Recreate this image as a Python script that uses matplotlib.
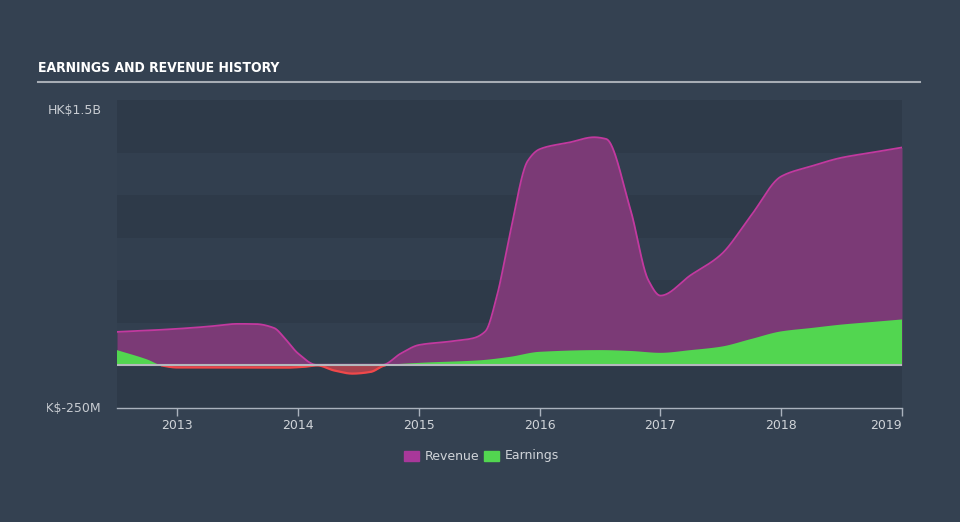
import numpy as np
import matplotlib
matplotlib.use("Agg")
import matplotlib.pyplot as plt
from matplotlib.patches import Rectangle
from matplotlib.transforms import Bbox

# ---- data (HK$ billions, decimal years) ----
rev_dates = [2012.5, 2012.75, 2013.0, 2013.25, 2013.5, 2013.65, 2013.8, 2013.9, 2014.0, 2014.15,
             2014.4, 2014.7, 2014.85, 2015.0, 2015.25, 2015.45, 2015.55, 2015.65, 2015.75, 2015.9,
             2016.0, 2016.25, 2016.45, 2016.55, 2016.75, 2016.9, 2017.0, 2017.25, 2017.5, 2017.75,
             2018.0, 2018.25, 2018.5, 2018.75, 2019.0]
rev_vals = [0.197, 0.205, 0.215, 0.228, 0.244, 0.243, 0.22, 0.15, 0.07, 0.004,
            0.004, 0.004, 0.07, 0.12, 0.14, 0.16, 0.2, 0.42, 0.76, 1.2,
            1.27, 1.31, 1.34, 1.33, 0.92, 0.50, 0.41, 0.53, 0.65, 0.88,
            1.11, 1.17, 1.22, 1.25, 1.28]
earn_dates = [2012.5, 2012.75, 2012.87, 2013.0, 2013.5, 2013.9, 2014.05, 2014.16, 2014.3, 2014.45,
              2014.6, 2014.72, 2015.0, 2015.5, 2015.75, 2016.0, 2016.5, 2016.75, 2017.0, 2017.25,
              2017.5, 2017.75, 2018.0, 2018.25, 2018.5, 2018.75, 2019.0]
earn_vals = [0.09, 0.035, 0.0, -0.012, -0.012, -0.013, -0.008, 0.0, -0.03, -0.048,
             -0.038, 0.0, 0.015, 0.03, 0.05, 0.08, 0.09, 0.085, 0.074, 0.09,
             0.11, 0.155, 0.2, 0.22, 0.24, 0.255, 0.27]
year_ticks = [2013, 2014, 2015, 2016, 2017, 2018, 2019]
y_tick_vals = [1.5, -0.25]
y_tick_labels = ["HK$1.5B", "HK$-250M"]
legend_labels = ["Revenue", "Earnings"]

# ---- monotone cubic interpolation for smooth rendering ----
def monotone(x, y, xs):
    x = np.asarray(x, float); y = np.asarray(y, float)
    h = np.diff(x); d = np.diff(y) / h
    m = np.zeros_like(y)
    m[0] = d[0]; m[-1] = d[-1]
    for i in range(1, len(y) - 1):
        if d[i - 1] * d[i] <= 0:
            m[i] = 0
        else:
            w1 = 2 * h[i] + h[i - 1]; w2 = h[i] + 2 * h[i - 1]
            m[i] = (w1 + w2) / (w1 / d[i - 1] + w2 / d[i])
    idx = np.clip(np.searchsorted(x, xs) - 1, 0, len(x) - 2)
    t = (xs - x[idx]) / h[idx]
    h00 = 2 * t**3 - 3 * t**2 + 1; h10 = t**3 - 2 * t**2 + t
    h01 = -2 * t**3 + 3 * t**2; h11 = t**3 - t**2
    return h00 * y[idx] + h10 * h[idx] * m[idx] + h01 * y[idx + 1] + h11 * h[idx] * m[idx + 1]

BG = "#344151"
fig = plt.figure(figsize=(9.6, 5.22), dpi=100, facecolor=BG)
ax = fig.add_axes([117 / 960, 1 - 408 / 522, 785 / 960, 298 / 522])
ax.set_facecolor("#2f3b4a")
ax.set_xlim(2012.5, 2019.0)
ax.set_ylim(-0.25, 1.5)

# background bands
for i, lo in enumerate(np.arange(-0.25, 1.5, 0.25)):
    ax.axhspan(lo, lo + 0.25, color="#2e3a49" if i % 2 == 0 else "#323f4f", lw=0, zorder=0)
ax.add_patch(Rectangle((2012.5, 1.5), 6.5, 0.06, color="#2e3a49", lw=0, clip_on=False, zorder=0))

xs = np.linspace(2012.5, 2019.0, 1500)
rv = monotone(rev_dates, rev_vals, xs)
ev = monotone(earn_dates, earn_vals, xs)

ax.fill_between(xs, 0, rv, color="#7b3a76", lw=0, zorder=2)
ax.plot(xs, rv, color="#c2399f", lw=1.3, zorder=3)
ax.fill_between(xs, 0, ev, where=ev >= 0, interpolate=True, color="#52d650", lw=0, zorder=4)
ax.fill_between(xs, 0, ev, where=ev < 0, interpolate=True, color="#b5444f", alpha=0.9, lw=0, zorder=4)
evn = np.where(ev < 0, ev, np.nan)
ax.plot(xs, evn, color="#f0484a", lw=1.6, zorder=5)
ax.axhline(0, color="#b4b8bd", lw=1.5, zorder=6)

for s in ["top", "right", "left"]:
    ax.spines[s].set_visible(False)
ax.spines["bottom"].set_color("#aab2bd")
ax.spines["bottom"].set_linewidth(1)
ax.set_xticks(year_ticks)
ax.set_xticklabels([str(y) for y in year_ticks])
ax.tick_params(axis="x", colors="#aab2bd", labelcolor="#d0d4d9", length=6, width=1, labelsize=9, pad=2)
ax.get_xticklabels()[-1].set_ha("right")
ax.set_yticks([])

# y labels clipped at left
clipbox = Bbox.from_extents(47, 0, 960, 522)
for v, lab in zip(y_tick_vals, y_tick_labels):
    t = ax.text(-0.02, (v + 0.25) / 1.75, lab, transform=ax.transAxes, ha="right", va="center",
                color="#c8ccd2", fontsize=9)
    t.set_clip_box(clipbox); t.set_clip_on(True)

# title and rule
fig.text(38 / 960, 1 - 68 / 522, "EARNINGS AND REVENUE HISTORY", color="white", fontsize=10,
         fontweight="bold", fontstretch="condensed", family="DejaVu Sans", va="center", ha="left")
fig.add_artist(plt.Line2D([38 / 960, 920 / 960], [1 - 82 / 522, 1 - 82 / 522], color="#a7adb5", lw=1.5))

# legend
for x0, col, lab in [(404, "#a8389a", legend_labels[0]), (484, "#52d650", legend_labels[1])]:
    fig.add_artist(Rectangle((x0 / 960, 1 - 461 / 522), 15 / 960, 10 / 522, color=col,
                             transform=fig.transFigure))
    fig.text((x0 + 21) / 960, 1 - 456 / 522, lab, color="#d0d4d9", fontsize=9, va="center", ha="left")

fig.savefig("out.png", dpi=100, facecolor=BG)
